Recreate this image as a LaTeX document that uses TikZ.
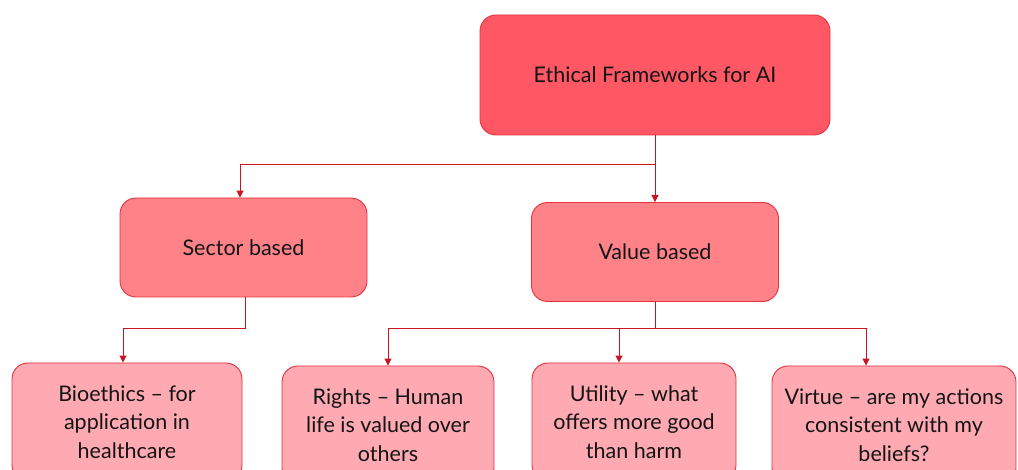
\documentclass[tikz,border=0pt]{standalone}
\usepackage{fontspec}
\setmainfont{Lato}
\usetikzlibrary{arrows.meta,positioning}
\definecolor{topfill}{RGB}{255,88,100}
\definecolor{midfill}{RGB}{255,130,137}
\definecolor{lowfill}{RGB}{255,170,178}
\definecolor{edgered}{RGB}{228,50,62}
\definecolor{linered}{RGB}{200,20,35}
\definecolor{txt}{RGB}{20,20,20}
\tikzset{
  box/.style={draw=edgered, line width=0.9pt, rounded corners=16pt, align=center,
    text=txt, font=\fontsize{21.5}{28.5}\selectfont, inner sep=0pt},
  topbox/.style={box, fill=topfill, minimum width=350pt, minimum height=120pt},
  midbox/.style={box, fill=midfill, minimum width=247pt, minimum height=99pt},
  lowbox/.style={box, fill=lowfill, minimum height=118pt},
  conn/.style={draw=linered, line width=1pt},
  arr/.style={conn, -{Triangle[length=7pt,width=7pt]}}
}
\begin{document}
\begin{tikzpicture}[x=1pt,y=-1pt]
\useasboundingbox (0,0) rectangle (1018,470);
\clip (0,0) rectangle (1018,470);
\node[topbox] (top) at (655,75) {Ethical Frameworks for AI};
\node[midbox] (sector) at (243.5,247.5) {Sector based};
\node[midbox] (value) at (655,252) {Value based};
\node[lowbox, minimum width=230pt] (bio) at (127,422) {Bioethics -- for\\application in\\healthcare};
\node[lowbox, minimum width=212pt] (rights) at (388,425) {Rights -- Human\\life is valued over\\others};
\node[lowbox, minimum width=204pt] (utility) at (634,422) {Utility -- what\\offers more good\\than harm};
\node[lowbox, minimum width=244pt] (virtue) at (894,425) {Virtue -- are my actions\\consistent with my\\beliefs?};
\coordinate (j1) at (655,165);
\coordinate (j2) at (245,329);
\coordinate (j3) at (655,329);
\draw[conn] (top.south) -- (j1);
\draw[arr] (j1) -| ([xshift=-3.5pt]sector.north);
\draw[arr] (j1) -- (value.north);
\draw[conn] (sector.south -| j2) -- (j2);
\draw[arr] (j2) -| ([xshift=-4pt]bio.north);
\draw[conn] (value.south) -- (j3);
\draw[arr] (j3) -| (rights.north);
\draw[arr] (j3) -| ([xshift=-15pt]utility.north);
\draw[arr] (j3) -| ([xshift=-28pt]virtue.north);
\end{tikzpicture}
\end{document}
